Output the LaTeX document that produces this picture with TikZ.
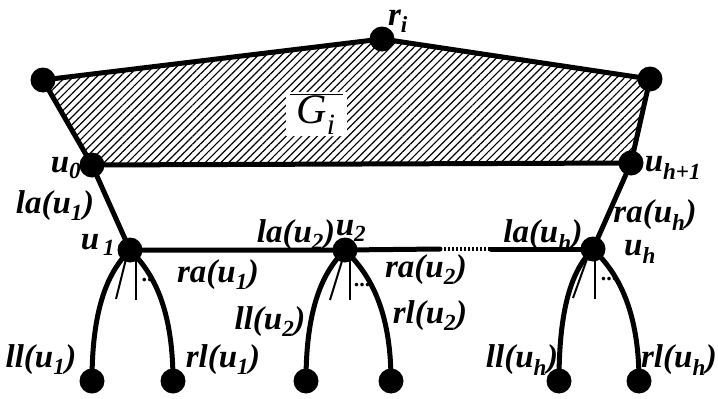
\documentclass[tikz,border=0pt]{standalone}
\usepackage{fontspec}
\setmainfont{Liberation Serif}
\usetikzlibrary{patterns.meta}
\tikzset{
  dot/.style={circle,fill=black,inner sep=0pt,minimum size=25pt},
  edge/.style={line width=5pt,line cap=round},
  thin/.style={line width=2pt},
  lbl/.style={inner sep=0pt,font=\fontsize{33}{36}\selectfont\bfseries\itshape},
  ell/.style={inner sep=0pt,font=\fontsize{22}{22}\selectfont\bfseries},
}
\begin{document}
\begin{tikzpicture}[x=1pt,y=-1pt]
\useasboundingbox (0,0) rectangle (718,399);
% top graph
\node[dot] (tl) at (43,80) {};
\node[dot] (r) at (382,39) {};
\node[dot] (tr) at (650,79) {};
\node[dot] (u0) at (92,165) {};
\node[dot] (uh1) at (631,163) {};
\fill[pattern={Lines[angle=45,distance=5.5pt,line width=1.2pt]}] (tl.center) -- (r.center) -- (tr.center) -- (uh1.center) -- (u0.center) -- cycle;
\draw[edge,line join=round] (tl.center) -- (r.center) -- (tr.center) -- (uh1.center) -- (u0.center) -- cycle;
\node[lbl,fill=white,inner xsep=4pt,inner ysep=2pt,font=\fontsize{42}{46}\selectfont\itshape] (Gi) at (316,114) {$\overline{\mbox{\,\textit{G}\textsubscript{\textit{i}}\,}}$};
% middle nodes
\node[dot] (u1) at (130,250) {};
\node[dot] (u2) at (345,250) {};
\node[dot] (uh) at (593,249) {};
\coordinate (d1) at (440,249);
\coordinate (d2) at (491,249);
\draw[edge] (u0.center) -- (u1.center);
\draw[edge] (uh1.center) -- (uh.center);
\draw[edge] (u1.center) -- (u2.center) -- (d1);
\draw[line width=4.5pt,dash pattern=on 2pt off 2pt] (d1) -- (d2);
\draw[edge] (d2) -- (uh.center);
% leaves
\node[dot] (ll1) at (92,381) {};
\node[dot] (rl1) at (173,381) {};
\node[dot] (ll2) at (306,381) {};
\node[dot] (rl2) at (391,381) {};
\node[dot] (llh) at (559,381) {};
\node[dot] (rlh) at (639,381) {};
% fans
\draw[edge] (u1.center) .. controls (112,268) and (92,300) .. (ll1.center);
\draw[edge] (u1.center) .. controls (148,268) and (173,300) .. (rl1.center);
\draw[edge] (u2.center) .. controls (327,268) and (306,300) .. (ll2.center);
\draw[edge] (u2.center) .. controls (363,268) and (391,300) .. (rl2.center);
\draw[edge] (uh.center) .. controls (575,267) and (559,300) .. (llh.center);
\draw[edge] (uh.center) .. controls (611,267) and (639,300) .. (rlh.center);
% thin lines and dots
\draw[thin] ([shift={(-4,9)}]u1.center) -- ([shift={(-14,49)}]u1.center);
\draw[thin] ([shift={(6,8)}]u1.center) -- ([shift={(6,50)}]u1.center);
\node[ell] (e1) at (147,280) {..};
\draw[thin] ([shift={(-3,11)}]u2.center) -- ([shift={(-15,50)}]u2.center);
\draw[thin] ([shift={(5,10)}]u2.center) -- ([shift={(5,50)}]u2.center);
\node[ell] (e2) at (362,285) {...};
\draw[thin] ([shift={(-6,10)}]uh.center) -- ([shift={(-20,49)}]uh.center);
\draw[thin] ([shift={(2,6)}]uh.center) -- ([shift={(2,50)}]uh.center);
\node[ell] (eh) at (609,279) {...};
% labels
\node[lbl] (rlab) at (398,21) {r\textsubscript{\textit{i}}};
\node[lbl] (u0lab) at (66,168) {u\textsubscript{0}};
\node[lbl] (uh1lab) at (673,168) {u\textsubscript{\textit{h}+1}};
\node[lbl] (la1) at (55,206) {la(u\textsubscript{1})};
\node[lbl] (u1lab) at (98,245) {u\textsubscript{\,1}};
\node[lbl] (la2) at (296,235) {la(u\textsubscript{2})};
\node[lbl] (u2lab) at (351,231) {u\textsubscript{2}};
\node[lbl] (ra1) at (218,275) {ra(u\textsubscript{1})};
\node[lbl] (ll2lab) at (270,322) {ll(u\textsubscript{2})};
\node[lbl] (ll1lab) at (41,360) {ll(u\textsubscript{1})};
\node[lbl] (rl1lab) at (223,360) {rl(u\textsubscript{1})};
\node[lbl] (ra2) at (426,270) {ra(u\textsubscript{2})};
\node[lbl] (rl2lab) at (430,316) {rl(u\textsubscript{2})};
\node[lbl] (lah) at (543,235) {la(u\textsubscript{\textit{h}})};
\node[lbl] (rah) at (655,215) {ra(u\textsubscript{\textit{h}})};
\node[lbl] (uhlab) at (640,252) {u\textsubscript{\textit{h}}};
\node[lbl] (llhlab) at (522,360) {ll(u\textsubscript{\textit{h}})};
\node[lbl] (rlhlab) at (679,360) {rl(u\textsubscript{\textit{h}})};
\end{tikzpicture}
\end{document}
